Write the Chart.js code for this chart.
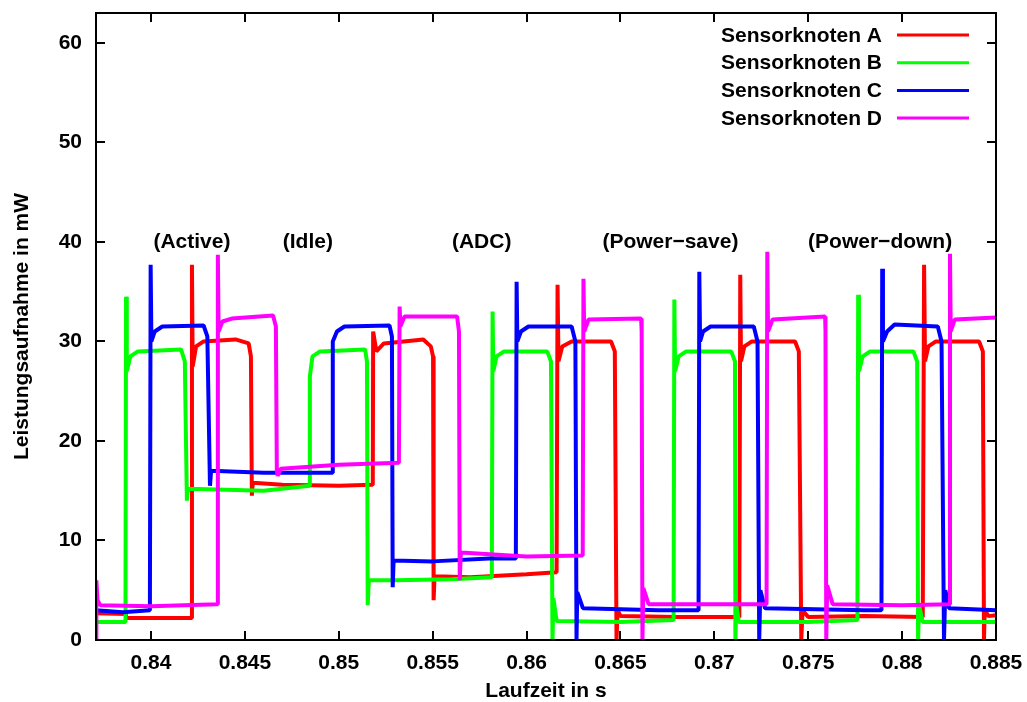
<!DOCTYPE html>
<html>
<head>
<meta charset="utf-8">
<script src="https://cdn.jsdelivr.net/npm/chart.js@4/dist/chart.umd.min.js"></script>
<style>
html,body{margin:0;padding:0;background:#fff;}
canvas{display:block;}
</style>
</head>
<body>
<canvas id="c" width="1027" height="702"></canvas>
<script>
// ---- data (time in s, power in mW) ----
const seriesNames = ["Sensorknoten A", "Sensorknoten B", "Sensorknoten C", "Sensorknoten D"];
const seriesColors = ["#ff0000", "#00ff00", "#0000ff", "#ff00ff"];

const xA = [0.83707,0.83866,0.83868,0.84214,0.84218,0.84222,0.8424,0.8428,0.8445,0.8452,0.84532,0.84537,0.84542,0.8470,0.8500,0.85178,0.85181,0.85183,0.8520,0.8524,0.8545,0.8549,0.85502,0.85505,0.8551,0.8570,0.8600,0.86160,0.86165,0.86170,0.8619,0.8624,0.8645,0.8647,0.86479,0.86485,0.8650,0.8680,0.87133,0.87138,0.87142,0.8716,0.8720,0.8743,0.8745,0.87463,0.8747,0.8750,0.8780,0.8811,0.88117,0.88122,0.8814,0.8818,0.8841,0.8843,0.88436,0.8844,0.8846,0.885];
const yA = [2.7,2.6,2.2,2.2,37.7,27.5,29.5,30.0,30.2,29.8,28.5,14.5,15.8,15.6,15.5,15.6,15.7,31.0,29.0,29.8,30.2,29.5,28.5,4.0,6.4,6.3,6.6,6.8,35.7,28.0,29.5,30.0,30.0,29.0,0.0,3.0,2.4,2.3,2.3,36.7,28.0,29.5,30.0,30.0,29.0,0.0,3.0,2.3,2.4,2.3,37.7,28.0,29.5,30.0,30.0,29.0,0.0,3.0,2.4,2.5];

const xB = [0.83707,0.83864,0.83867,0.83871,0.8389,0.8393,0.8416,0.8418,0.84191,0.84197,0.8460,0.84843,0.84846,0.8486,0.8490,0.8514,0.85150,0.85154,0.85160,0.8530,0.8560,0.85815,0.85819,0.85823,0.8584,0.8588,0.8611,0.8613,0.86138,0.86143,0.8616,0.8650,0.86783,0.86787,0.86791,0.8681,0.8685,0.8709,0.8711,0.87112,0.87117,0.8713,0.8750,0.87762,0.87766,0.8777,0.8779,0.8783,0.8806,0.8808,0.88085,0.8809,0.8811,0.885];
const yB = [1.8,1.8,34.5,27.0,28.5,29.0,29.2,28.0,14.0,15.2,15.0,15.5,26.5,28.5,29.0,29.2,28.0,3.5,6.0,6.0,6.1,6.3,33.0,27.0,28.5,29.0,29.0,28.0,0.0,4.2,1.9,1.8,2.0,34.2,27.0,28.5,29.0,29.0,28.0,0.0,3.5,1.8,1.8,2.0,34.7,27.0,28.5,29.0,29.0,28.0,0.0,3.5,1.8,1.8];

const xC = [0.83707,0.8385,0.83994,0.83998,0.84002,0.8402,0.8406,0.8428,0.8430,0.84314,0.8432,0.8460,0.84965,0.84968,0.8499,0.8503,0.8527,0.85283,0.85287,0.85292,0.8550,0.8580,0.85943,0.85947,0.85951,0.8597,0.8601,0.8624,0.8626,0.86266,0.8627,0.8630,0.8670,0.86916,0.86920,0.86924,0.8694,0.8698,0.8721,0.8723,0.87239,0.87245,0.8727,0.8780,0.8789,0.87894,0.87898,0.8792,0.8796,0.8819,0.8821,0.88223,0.8823,0.8825,0.885];
const yC = [3.0,2.8,3.0,37.7,30.0,31.0,31.5,31.6,30.5,15.5,17.0,16.8,16.8,30.0,31.0,31.5,31.6,30.5,5.3,8.0,7.9,8.2,8.2,36.0,30.0,31.0,31.5,31.5,30.0,0.0,4.8,3.2,3.0,3.0,37.0,30.0,31.0,31.5,31.5,30.0,0.0,5.0,3.2,3.0,3.0,37.3,30.0,31.0,31.7,31.5,30.0,0.0,5.0,3.2,3.0];

const xD = [0.83707,0.83709,0.83715,0.8373,0.8400,0.84352,0.84356,0.8436,0.8438,0.8443,0.8465,0.84665,0.84670,0.84675,0.8469,0.8500,0.8532,0.85324,0.85328,0.8535,0.8563,0.85640,0.85644,0.8565,0.8600,0.86299,0.86303,0.86307,0.8633,0.8661,0.86613,0.86617,0.86622,0.8665,0.8700,0.87278,0.87282,0.87286,0.8731,0.8759,0.87592,0.87596,0.87601,0.8763,0.8800,0.88251,0.88255,0.88259,0.8828,0.885];
const yD = [0.0,6.0,4.0,3.5,3.4,3.6,38.7,31.0,32.0,32.3,32.6,31.5,17.0,16.5,17.2,17.6,17.8,33.5,31.5,32.5,32.5,31.0,6.0,8.8,8.4,8.5,36.3,31.0,32.2,32.3,31.0,0.0,5.2,3.6,3.6,3.6,39.0,31.0,32.2,32.5,31.0,0.0,5.5,3.6,3.5,3.6,38.8,31.0,32.2,32.4];

const xTicks = [0.84,0.845,0.85,0.855,0.86,0.865,0.87,0.875,0.88,0.885];
const xTickLabels = ["0.84","0.845","0.85","0.855","0.86","0.865","0.87","0.875","0.88","0.885"];
const yTicks = [0,10,20,30,40,50,60];
const yTickLabels = ["0","10","20","30","40","50","60"];

const phaseLabels = ["(Active)","(Idle)","(ADC)","(Power\u2212save)","(Power\u2212down)"];
const phaseX = [0.84218,0.84835,0.85761,0.86766,0.87883];
const phaseY = [40,40,40,40,40];

const xMin = 0.83707, xMax = 0.885, yMin = 0, yMax = 63;
const xTitle = "Laufzeit in s";
const yTitle = "Leistungsaufnahme in mW";

// ---- build ----
const FONT = "'Liberation Sans', Arial, Helvetica, sans-serif";
function pts(xs, ys){ return xs.map((x,i)=>({x:x, y:ys[i]})); }
const allX = [xA,xB,xC,xD], allY = [yA,yB,yC,yD];
const datasets = allX.map((xs,i)=>({
  label: seriesNames[i],
  data: pts(xs, allY[i]),
  borderColor: seriesColors[i],
  backgroundColor: seriesColors[i],
  borderWidth: 4,
  borderJoinStyle: 'bevel',
  pointRadius: 0,
  tension: 0,
  fill: false,
  order: 4 - i
}));

function zeroPad(s){ s.paddingLeft = 0; s.paddingRight = 0; s.paddingTop = 0; s.paddingBottom = 0; }

const framePlugin = {
  id: 'frame',
  afterDraw(chart){
    const ctx = chart.ctx, a = chart.chartArea;
    const xs = chart.scales.x, ys = chart.scales.y;
    ctx.save();
    ctx.strokeStyle = '#000';
    ctx.lineWidth = 2;
    ctx.strokeRect(a.left, a.top, a.right - a.left, a.bottom - a.top);
    const tl = 9;
    ctx.beginPath();
    xs.ticks.forEach(t=>{
      const p = Math.round(xs.getPixelForValue(t.value));
      ctx.moveTo(p, a.bottom); ctx.lineTo(p, a.bottom - tl);
      ctx.moveTo(p, a.top); ctx.lineTo(p, a.top + tl);
    });
    ys.ticks.forEach(t=>{
      const p = Math.round(ys.getPixelForValue(t.value));
      ctx.moveTo(a.left, p); ctx.lineTo(a.left + tl, p);
      ctx.moveTo(a.right, p); ctx.lineTo(a.right - tl, p);
    });
    ctx.stroke();

    ctx.fillStyle = '#000';
    ctx.font = "bold 21px " + FONT;
    ctx.textAlign = 'center';
    ctx.textBaseline = 'middle';
    phaseLabels.forEach((s,i)=>{
      ctx.fillText(s, xs.getPixelForValue(phaseX[i]), ys.getPixelForValue(phaseY[i]));
    });
    ctx.fillText(xTitle, (a.left + a.right)/2, 691);
    ctx.save();
    ctx.translate(22, (a.top + a.bottom)/2);
    ctx.rotate(-Math.PI/2);
    ctx.fillText(yTitle, 0, 0);
    ctx.restore();
    ctx.textAlign = 'right';
    seriesNames.forEach((n,i)=>{
      const y = 36 + i*27.7;
      ctx.fillStyle = '#000';
      ctx.fillText(n, 882, y);
      ctx.strokeStyle = seriesColors[i];
      ctx.lineWidth = 3;
      ctx.beginPath();
      ctx.moveTo(897, y - 1); ctx.lineTo(969, y - 1);
      ctx.stroke();
    });
    ctx.restore();
  }
};

new Chart(document.getElementById('c'), {
  type: 'line',
  data: { datasets },
  options: {
    responsive: false,
    animation: false,
    events: [],
    layout: { padding: { top: 13, right: 31, left: 0, bottom: 0 } },
    plugins: { legend: { display: false }, tooltip: { enabled: false }, title: { display: false } },
    scales: {
      x: {
        type: 'linear', min: xMin, max: xMax,
        afterBuildTicks: s => { s.ticks = xTicks.map(v=>({value:v})); },
        afterFit: s => { s.height = 62; zeroPad(s); },
        grid: { display: false, drawTicks: false },
        border: { display: false },
        ticks: {
          padding: 11, color: '#000', maxRotation: 0, autoSkip: false,
          font: { family: FONT, size: 21, weight: 'bold' },
          callback: (v) => { const i = xTicks.findIndex(t=>Math.abs(t-v)<1e-9); return i>=0 ? xTickLabels[i] : ''; }
        }
      },
      y: {
        type: 'linear', min: yMin, max: yMax,
        afterBuildTicks: s => { s.ticks = yTicks.map(v=>({value:v})); },
        afterFit: s => { s.width = 96; zeroPad(s); },
        grid: { display: false, drawTicks: false },
        border: { display: false },
        ticks: {
          padding: 14, color: '#000', autoSkip: false,
          font: { family: FONT, size: 21, weight: 'bold' },
          callback: (v) => { const i = yTicks.indexOf(v); return i>=0 ? yTickLabels[i] : ''; }
        }
      }
    }
  },
  plugins: [framePlugin]
});
</script>
</body>
</html>
